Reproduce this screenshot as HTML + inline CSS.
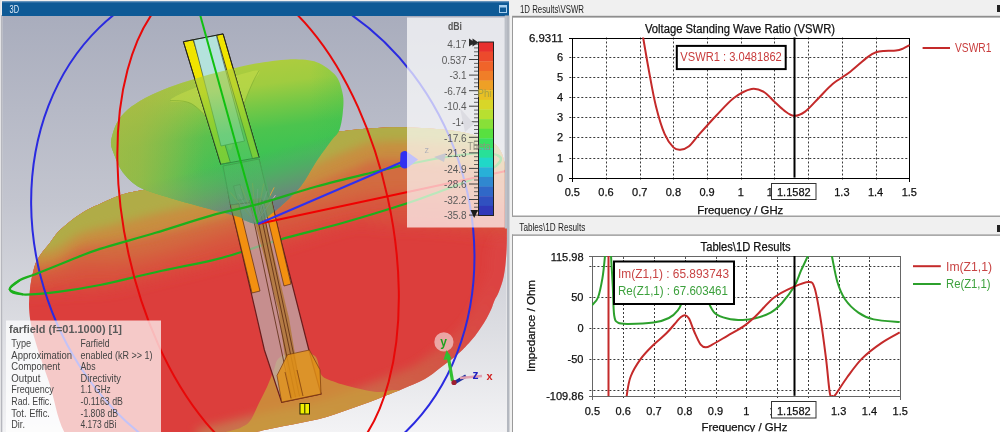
<!DOCTYPE html>
<html><head><meta charset="utf-8"><title>CST</title>
<style>html,body{margin:0;padding:0;background:#f0f0f0;width:1000px;height:432px;overflow:hidden}svg{display:block} .pl text{stroke:currentColor;stroke-width:0.25px}</style>
</head><body>
<svg width="1000" height="432" viewBox="0 0 1000 432" font-family="'Liberation Sans', Arial, sans-serif">
<rect x="0" y="0" width="512" height="432" fill="#f0f0f0"/>
<rect x="0" y="0" width="1.2" height="432" fill="#e4e4e6"/>
<rect x="1.2" y="15" width="1.3" height="417" fill="#a8aab2"/>
<rect x="2" y="1.5" width="507.5" height="14.5" fill="#0e5a96"/>
<rect x="2" y="1.5" width="507.5" height="1" fill="#4a82b4"/>
<text x="9.5" y="12.6" font-size="10" fill="#e0ecf8" color="#e0ecf8" text-anchor="start" font-weight="normal" textLength="9.5" lengthAdjust="spacingAndGlyphs">3D</text>
<rect x="499.5" y="5.5" width="7" height="7" fill="none" stroke="#a8d0f0" stroke-width="1"/>
<rect x="499.5" y="5.5" width="7" height="2" fill="#a8d0f0"/>
<rect x="509" y="0" width="491" height="432" fill="#f0f0f0"/>
<text x="520" y="12.8" font-size="10" fill="#222222" color="#222222" text-anchor="start" font-weight="normal" textLength="64" lengthAdjust="spacingAndGlyphs">1D Results\VSWR</text>
<text x="519.3" y="231" font-size="10" fill="#222222" color="#222222" text-anchor="start" font-weight="normal" textLength="66" lengthAdjust="spacingAndGlyphs">Tables\1D Results</text>
<rect x="997" y="5" width="4" height="7" fill="#222"/>
<rect x="997" y="225" width="4" height="7" fill="#222"/>
<svg x="0" y="16" width="507" height="416" viewBox="0 16 507 416">
<defs>
<linearGradient id="bg" x1="0" y1="16" x2="0" y2="432" gradientUnits="userSpaceOnUse"><stop offset="0" stop-color="#a9adbd"/><stop offset="0.45" stop-color="#c3c5cf"/><stop offset="0.75" stop-color="#dcdde2"/><stop offset="1" stop-color="#f3f3f5"/></linearGradient>
<linearGradient id="body" x1="54.4" y1="202.9" x2="126.9" y2="473.3" gradientUnits="userSpaceOnUse">
<stop offset="0.000" stop-color="#a8b446"/>
<stop offset="0.079" stop-color="#aeae44"/>
<stop offset="0.143" stop-color="#bca042"/>
<stop offset="0.200" stop-color="#ca8a40"/>
<stop offset="0.264" stop-color="#d47440"/>
<stop offset="0.336" stop-color="#d8603e"/>
<stop offset="0.400" stop-color="#da4e3c"/>
<stop offset="0.482" stop-color="#dc423c"/>
<stop offset="0.732" stop-color="#dc3c3c"/>
<stop offset="0.839" stop-color="#da4a44"/>
<stop offset="0.921" stop-color="#d65a4e"/>
<stop offset="0.982" stop-color="#d26a52"/>
</linearGradient>
<linearGradient id="lobe" x1="200" y1="65" x2="215" y2="175" gradientUnits="userSpaceOnUse"><stop offset="0" stop-color="#b0cc3e"/><stop offset="0.25" stop-color="#a0cc40"/><stop offset="0.45" stop-color="#74c846"/><stop offset="0.65" stop-color="#4cc44e"/><stop offset="1" stop-color="#36c256"/></linearGradient>
<linearGradient id="lobeside" x1="110" y1="0" x2="345" y2="0" gradientUnits="userSpaceOnUse"><stop offset="0" stop-color="#a8c83e" stop-opacity="0.7"/><stop offset="0.4" stop-color="#a8c83e" stop-opacity="0"/><stop offset="0.85" stop-color="#30c050" stop-opacity="0"/><stop offset="1" stop-color="#30c050" stop-opacity="0.2"/></linearGradient>
<linearGradient id="cone" x1="53.9" y1="207.2" x2="70.8" y2="272" gradientUnits="userSpaceOnUse"><stop offset="0" stop-color="#5a9a6a" stop-opacity="0"/><stop offset="0.15" stop-color="#62a46c" stop-opacity="0.3"/><stop offset="0.45" stop-color="#6c9076" stop-opacity="0.65"/><stop offset="0.7" stop-color="#767a84" stop-opacity="0.82"/><stop offset="1" stop-color="#7a6090" stop-opacity="0.92"/></linearGradient>
<linearGradient id="coneL" x1="140" y1="0" x2="240" y2="0" gradientUnits="userSpaceOnUse"><stop offset="0" stop-color="#a8b448" stop-opacity="0.6"/><stop offset="0.5" stop-color="#a0b050" stop-opacity="0.25"/><stop offset="1" stop-color="#a0b050" stop-opacity="0"/></linearGradient>
<radialGradient id="skirt" cx="300" cy="420" r="110" gradientUnits="userSpaceOnUse" gradientTransform="translate(300 420) scale(1 0.7) translate(-300 -420)"><stop offset="0" stop-color="#c8a020" stop-opacity="0.95"/><stop offset="0.5" stop-color="#c8a020" stop-opacity="0.7"/><stop offset="1" stop-color="#c8a020" stop-opacity="0"/></radialGradient>
</defs>
<rect x="2.5" y="16" width="504" height="416" fill="url(#bg)"/>
<clipPath id="bodyclip"><path d="M34.7,266.0 C36.5,260.2 38.5,257.8 41.0,254.0 C43.5,250.2 47.0,246.7 49.8,243.0 C52.6,239.3 54.7,235.5 58.0,232.0 C61.3,228.5 65.4,225.2 69.4,222.0 C73.4,218.8 77.5,215.7 82.0,213.0 C86.5,210.3 89.6,208.7 96.3,205.6 C103.0,202.5 113.6,197.2 122.2,194.4 C130.8,191.6 139.2,191.0 148.0,188.9 C156.8,186.8 163.8,185.5 175.0,182.0 C186.2,178.5 200.8,173.0 215.0,168.0 C229.2,163.0 245.8,156.7 260.0,152.0 C274.2,147.3 288.3,143.2 300.0,140.0 C311.7,136.8 318.3,134.9 330.0,133.0 C341.7,131.1 356.7,129.4 370.0,128.5 C383.3,127.6 395.8,127.1 410.0,127.5 C424.2,127.9 442.5,129.1 455.0,131.0 C467.5,132.9 477.5,135.8 485.0,139.0 C492.5,142.2 496.5,144.0 500.0,150.0 C503.5,156.0 504.9,162.1 506.0,175.0 C507.1,187.9 506.7,214.6 506.8,227.6 C506.9,240.6 506.9,244.9 506.4,253.0 C505.9,261.1 505.1,269.5 503.8,276.0 C502.5,282.5 500.3,288.0 498.8,292.0 C497.3,296.0 496.0,297.1 494.7,300.0 C493.4,302.9 492.6,306.2 491.2,309.3 C489.9,312.4 488.3,315.4 486.6,318.5 C484.9,321.6 482.7,324.9 480.8,327.8 C478.9,330.7 477.3,333.0 475.0,335.9 C472.7,338.8 469.1,342.8 467.0,345.1 C464.9,347.5 464.8,347.7 462.3,350.0 C459.8,352.3 455.7,356.0 452.0,359.0 C448.3,362.0 444.6,364.6 440.0,368.0 C435.4,371.4 430.6,375.9 424.4,379.3 C418.2,382.8 409.4,386.0 403.0,388.7 C396.6,391.4 391.7,393.2 386.0,395.5 C380.3,397.8 374.7,400.2 369.0,402.3 C363.3,404.4 357.7,406.3 352.0,408.3 C346.3,410.3 340.7,412.4 335.0,414.2 C329.3,416.0 323.7,417.9 318.0,419.3 C312.3,420.7 306.7,421.6 301.0,422.7 C295.3,423.8 289.7,425.0 284.0,426.1 C278.3,427.2 272.7,428.3 267.0,429.5 C261.3,430.7 261.2,430.9 250.0,433.5 C238.8,436.1 221.7,442.2 200.0,445.0 C178.3,447.8 141.7,450.8 120.0,450.0 C98.3,449.2 81.8,451.3 70.0,440.0 C58.2,428.7 54.8,398.7 49.0,382.0 C43.2,365.3 38.3,351.5 35.0,340.0 C31.7,328.5 30.2,321.5 29.4,313.0 C28.6,304.5 29.1,296.8 30.0,289.0 C30.9,281.2 32.9,271.8 34.7,266.0Z"/></clipPath>
<filter id="bl5" x="-10%" y="-10%" width="120%" height="120%"><feGaussianBlur stdDeviation="5"/></filter>
<filter id="bl8" x="-10%" y="-10%" width="120%" height="120%"><feGaussianBlur stdDeviation="8"/></filter>
<path id="bodyp" d="M34.7,266.0 C36.5,260.2 38.5,257.8 41.0,254.0 C43.5,250.2 47.0,246.7 49.8,243.0 C52.6,239.3 54.7,235.5 58.0,232.0 C61.3,228.5 65.4,225.2 69.4,222.0 C73.4,218.8 77.5,215.7 82.0,213.0 C86.5,210.3 89.6,208.7 96.3,205.6 C103.0,202.5 113.6,197.2 122.2,194.4 C130.8,191.6 139.2,191.0 148.0,188.9 C156.8,186.8 163.8,185.5 175.0,182.0 C186.2,178.5 200.8,173.0 215.0,168.0 C229.2,163.0 245.8,156.7 260.0,152.0 C274.2,147.3 288.3,143.2 300.0,140.0 C311.7,136.8 318.3,134.9 330.0,133.0 C341.7,131.1 356.7,129.4 370.0,128.5 C383.3,127.6 395.8,127.1 410.0,127.5 C424.2,127.9 442.5,129.1 455.0,131.0 C467.5,132.9 477.5,135.8 485.0,139.0 C492.5,142.2 496.5,144.0 500.0,150.0 C503.5,156.0 504.9,162.1 506.0,175.0 C507.1,187.9 506.7,214.6 506.8,227.6 C506.9,240.6 506.9,244.9 506.4,253.0 C505.9,261.1 505.1,269.5 503.8,276.0 C502.5,282.5 500.3,288.0 498.8,292.0 C497.3,296.0 496.0,297.1 494.7,300.0 C493.4,302.9 492.6,306.2 491.2,309.3 C489.9,312.4 488.3,315.4 486.6,318.5 C484.9,321.6 482.7,324.9 480.8,327.8 C478.9,330.7 477.3,333.0 475.0,335.9 C472.7,338.8 469.1,342.8 467.0,345.1 C464.9,347.5 464.8,347.7 462.3,350.0 C459.8,352.3 455.7,356.0 452.0,359.0 C448.3,362.0 444.6,364.6 440.0,368.0 C435.4,371.4 430.6,375.9 424.4,379.3 C418.2,382.8 409.4,386.0 403.0,388.7 C396.6,391.4 391.7,393.2 386.0,395.5 C380.3,397.8 374.7,400.2 369.0,402.3 C363.3,404.4 357.7,406.3 352.0,408.3 C346.3,410.3 340.7,412.4 335.0,414.2 C329.3,416.0 323.7,417.9 318.0,419.3 C312.3,420.7 306.7,421.6 301.0,422.7 C295.3,423.8 289.7,425.0 284.0,426.1 C278.3,427.2 272.7,428.3 267.0,429.5 C261.3,430.7 261.2,430.9 250.0,433.5 C238.8,436.1 221.7,442.2 200.0,445.0 C178.3,447.8 141.7,450.8 120.0,450.0 C98.3,449.2 81.8,451.3 70.0,440.0 C58.2,428.7 54.8,398.7 49.0,382.0 C43.2,365.3 38.3,351.5 35.0,340.0 C31.7,328.5 30.2,321.5 29.4,313.0 C28.6,304.5 29.1,296.8 30.0,289.0 C30.9,281.2 32.9,271.8 34.7,266.0Z" fill="#dc3e3c"/>
<g clip-path="url(#bodyclip)">
<path d="M0.0,292.0 C8.3,291.7 36.7,290.7 50.0,290.0 C63.3,289.3 70.0,288.7 80.0,288.0 C90.0,287.3 97.5,288.0 110.0,286.0 C122.5,284.0 131.7,281.7 155.0,276.0 C178.3,270.3 217.5,261.0 250.0,252.0 C282.5,243.0 328.3,226.8 350.0,222.0 C371.7,217.2 363.3,222.2 380.0,223.0 C396.7,223.8 426.7,224.8 450.0,227.0 C473.3,229.2 508.3,234.5 520.0,236.0 L520,0 L0,0 Z" fill="#d8523e" filter="url(#bl8)"/>
<path d="M0.0,276.0 C8.3,275.3 36.7,274.3 50.0,272.0 C63.3,269.7 70.0,263.7 80.0,262.0 C90.0,260.3 97.5,263.2 110.0,262.0 C122.5,260.8 131.7,261.0 155.0,255.0 C178.3,249.0 217.5,235.2 250.0,226.0 C282.5,216.8 328.3,205.2 350.0,200.0 C371.7,194.8 363.3,195.7 380.0,195.0 C396.7,194.3 426.7,194.2 450.0,196.0 C473.3,197.8 508.3,204.3 520.0,206.0 L520,0 L0,0 Z" fill="#d26c40" filter="url(#bl8)"/>
<path d="M0.0,266.0 C8.3,265.7 36.7,267.2 50.0,264.0 C63.3,260.8 70.0,250.7 80.0,247.0 C90.0,243.3 97.5,244.2 110.0,242.0 C122.5,239.8 131.7,239.5 155.0,234.0 C178.3,228.5 217.5,219.7 250.0,209.0 C282.5,198.3 328.3,178.2 350.0,170.0 C371.7,161.8 363.3,161.0 380.0,160.0 C396.7,159.0 426.7,161.3 450.0,164.0 C473.3,166.7 508.3,174.0 520.0,176.0 L520,0 L0,0 Z" fill="#c88e40" filter="url(#bl5)"/>
<path d="M0.0,254.0 C8.3,253.5 36.7,254.3 50.0,251.0 C63.3,247.7 70.0,238.2 80.0,234.0 C90.0,229.8 97.5,229.3 110.0,226.0 C122.5,222.7 131.7,220.0 155.0,214.0 C178.3,208.0 217.5,200.7 250.0,190.0 C282.5,179.3 328.3,158.0 350.0,150.0 C371.7,142.0 363.3,143.0 380.0,142.0 C396.7,141.0 426.7,141.7 450.0,144.0 C473.3,146.3 508.3,154.0 520.0,156.0 L520,0 L0,0 Z" fill="#b0ac46" filter="url(#bl5)"/>
<linearGradient id="edgeg" x1="500" y1="290" x2="300" y2="430" gradientUnits="userSpaceOnUse"><stop offset="0" stop-color="#dc5050" stop-opacity="0.3"/><stop offset="0.45" stop-color="#cc6448" stop-opacity="0.75"/><stop offset="1" stop-color="#c87850" stop-opacity="0.9"/></linearGradient>
<path d="M512.0,240.0 C511.0,242.2 507.4,247.0 506.0,253.0 C504.6,259.0 505.7,268.2 503.8,276.0 C501.9,283.8 498.5,291.4 494.7,300.0 C490.9,308.6 486.2,319.5 480.8,327.8 C475.4,336.1 469.1,343.3 462.3,350.0 C455.5,356.7 446.3,363.1 440.0,368.0 C433.7,372.9 430.6,375.9 424.4,379.3 C418.2,382.8 409.4,386.0 403.0,388.7 C396.6,391.4 394.5,392.2 386.0,395.5 C377.5,398.8 363.3,404.3 352.0,408.3 C340.7,412.3 329.3,416.3 318.0,419.3 C306.7,422.3 295.3,423.7 284.0,426.1 C272.7,428.5 264.0,430.2 250.0,433.5 C236.0,436.8 208.3,443.9 200.0,446.0" fill="none" stroke="url(#edgeg)" stroke-width="34" filter="url(#bl5)"/>
</g>
<path d="M215.0,440.0 C188.3,438.0 234.2,431.2 240.0,428.0 C245.8,424.8 246.9,425.0 250.0,421.0 C253.1,417.0 255.7,409.7 258.5,404.0 C261.3,398.3 264.4,392.7 267.0,387.0 C269.6,381.3 271.8,374.8 273.8,370.0 C275.8,365.2 275.5,361.0 279.0,358.0 C282.5,355.0 289.0,352.3 295.0,352.0 C301.0,351.7 310.6,352.2 315.0,356.0 C319.4,359.8 318.1,370.7 321.4,375.0 C324.7,379.3 329.9,380.0 335.0,382.0 C340.1,384.0 344.9,385.3 352.0,387.0 C359.1,388.7 370.3,391.5 377.5,392.0 C384.7,392.5 389.6,390.0 395.0,390.0 C400.4,390.0 405.8,390.3 410.0,392.0 C414.2,393.7 421.7,392.0 420.0,400.0 C418.3,408.0 434.2,433.3 400.0,440.0 C365.8,446.7 241.7,442.0 215.0,440.0Z" fill="#c8a43a" opacity="0.72" clip-path="url(#bodyclip)"/>
<path d="M114.0,153.9 C112.5,149.8 110.6,146.6 111.0,142.0 C111.4,137.4 114.2,128.2 116.7,123.3 C119.2,118.4 123.2,113.3 127.8,109.4 C132.4,105.5 141.0,100.3 147.2,97.0 C153.4,93.7 162.3,89.9 169.4,87.2 C176.5,84.5 186.1,81.4 194.4,78.9 C202.7,76.4 215.8,72.9 225.0,70.6 C234.2,68.3 246.0,65.3 255.6,63.6 C265.2,61.9 279.7,59.6 288.9,59.4 C298.1,59.2 309.6,59.7 316.7,62.2 C323.8,64.7 332.1,71.0 336.0,76.0 C339.9,81.0 342.0,89.8 343.0,95.6 C344.0,101.4 343.1,109.7 342.5,115.0 C341.9,120.3 340.7,127.1 339.0,131.0 C337.3,134.9 334.4,136.3 331.0,141.0 C327.6,145.7 320.5,155.2 316.0,162.0 C311.5,168.8 306.3,179.3 301.0,186.0 C295.7,192.7 286.4,201.2 280.5,206.5 C274.6,211.8 265.7,218.4 262.0,221.0 C258.3,223.6 258.6,224.1 256.0,224.0 C253.4,223.9 247.7,221.6 245.0,220.5 C242.3,219.4 244.8,218.8 238.0,216.7 C231.2,214.6 210.2,209.3 200.0,206.5 C189.8,203.7 178.7,200.7 170.0,198.0 C161.3,195.3 147.9,191.3 141.9,188.6 C135.9,185.9 132.8,182.9 129.7,180.0 C126.6,177.1 123.4,173.4 121.0,169.5 C118.6,165.6 115.5,158.0 114.0,153.9Z" fill="url(#lobe)"/>
<path d="M114.0,153.9 C112.5,149.8 110.6,146.6 111.0,142.0 C111.4,137.4 114.2,128.2 116.7,123.3 C119.2,118.4 123.2,113.3 127.8,109.4 C132.4,105.5 141.0,100.3 147.2,97.0 C153.4,93.7 162.3,89.9 169.4,87.2 C176.5,84.5 186.1,81.4 194.4,78.9 C202.7,76.4 215.8,72.9 225.0,70.6 C234.2,68.3 246.0,65.3 255.6,63.6 C265.2,61.9 279.7,59.6 288.9,59.4 C298.1,59.2 309.6,59.7 316.7,62.2 C323.8,64.7 332.1,71.0 336.0,76.0 C339.9,81.0 342.0,89.8 343.0,95.6 C344.0,101.4 343.1,109.7 342.5,115.0 C341.9,120.3 340.7,127.1 339.0,131.0 C337.3,134.9 334.4,136.3 331.0,141.0 C327.6,145.7 320.5,155.2 316.0,162.0 C311.5,168.8 306.3,179.3 301.0,186.0 C295.7,192.7 286.4,201.2 280.5,206.5 C274.6,211.8 265.7,218.4 262.0,221.0 C258.3,223.6 258.6,224.1 256.0,224.0 C253.4,223.9 247.7,221.6 245.0,220.5 C242.3,219.4 244.8,218.8 238.0,216.7 C231.2,214.6 210.2,209.3 200.0,206.5 C189.8,203.7 178.7,200.7 170.0,198.0 C161.3,195.3 147.9,191.3 141.9,188.6 C135.9,185.9 132.8,182.9 129.7,180.0 C126.6,177.1 123.4,173.4 121.0,169.5 C118.6,165.6 115.5,158.0 114.0,153.9Z" fill="url(#lobeside)"/>
<path d="M114.0,153.9 C112.5,149.8 110.6,146.6 111.0,142.0 C111.4,137.4 114.2,128.2 116.7,123.3 C119.2,118.4 123.2,113.3 127.8,109.4 C132.4,105.5 141.0,100.3 147.2,97.0 C153.4,93.7 162.3,89.9 169.4,87.2 C176.5,84.5 186.1,81.4 194.4,78.9 C202.7,76.4 215.8,72.9 225.0,70.6 C234.2,68.3 246.0,65.3 255.6,63.6 C265.2,61.9 279.7,59.6 288.9,59.4 C298.1,59.2 309.6,59.7 316.7,62.2 C323.8,64.7 332.1,71.0 336.0,76.0 C339.9,81.0 342.0,89.8 343.0,95.6 C344.0,101.4 343.1,109.7 342.5,115.0 C341.9,120.3 340.7,127.1 339.0,131.0 C337.3,134.9 334.4,136.3 331.0,141.0 C327.6,145.7 320.5,155.2 316.0,162.0 C311.5,168.8 306.3,179.3 301.0,186.0 C295.7,192.7 286.4,201.2 280.5,206.5 C274.6,211.8 265.7,218.4 262.0,221.0 C258.3,223.6 258.6,224.1 256.0,224.0 C253.4,223.9 247.7,221.6 245.0,220.5 C242.3,219.4 244.8,218.8 238.0,216.7 C231.2,214.6 210.2,209.3 200.0,206.5 C189.8,203.7 178.7,200.7 170.0,198.0 C161.3,195.3 147.9,191.3 141.9,188.6 C135.9,185.9 132.8,182.9 129.7,180.0 C126.6,177.1 123.4,173.4 121.0,169.5 C118.6,165.6 115.5,158.0 114.0,153.9Z" fill="url(#cone)"/>
<path d="M114.0,153.9 C112.5,149.8 110.6,146.6 111.0,142.0 C111.4,137.4 114.2,128.2 116.7,123.3 C119.2,118.4 123.2,113.3 127.8,109.4 C132.4,105.5 141.0,100.3 147.2,97.0 C153.4,93.7 162.3,89.9 169.4,87.2 C176.5,84.5 186.1,81.4 194.4,78.9 C202.7,76.4 215.8,72.9 225.0,70.6 C234.2,68.3 246.0,65.3 255.6,63.6 C265.2,61.9 279.7,59.6 288.9,59.4 C298.1,59.2 309.6,59.7 316.7,62.2 C323.8,64.7 332.1,71.0 336.0,76.0 C339.9,81.0 342.0,89.8 343.0,95.6 C344.0,101.4 343.1,109.7 342.5,115.0 C341.9,120.3 340.7,127.1 339.0,131.0 C337.3,134.9 334.4,136.3 331.0,141.0 C327.6,145.7 320.5,155.2 316.0,162.0 C311.5,168.8 306.3,179.3 301.0,186.0 C295.7,192.7 286.4,201.2 280.5,206.5 C274.6,211.8 265.7,218.4 262.0,221.0 C258.3,223.6 258.6,224.1 256.0,224.0 C253.4,223.9 247.7,221.6 245.0,220.5 C242.3,219.4 244.8,218.8 238.0,216.7 C231.2,214.6 210.2,209.3 200.0,206.5 C189.8,203.7 178.7,200.7 170.0,198.0 C161.3,195.3 147.9,191.3 141.9,188.6 C135.9,185.9 132.8,182.9 129.7,180.0 C126.6,177.1 123.4,173.4 121.0,169.5 C118.6,165.6 115.5,158.0 114.0,153.9Z" fill="url(#coneL)"/>
<path d="M170.0,100.4 C171.3,97.4 189.2,90.1 200.0,86.0 C210.8,81.9 225.2,78.5 235.0,76.0 C244.8,73.5 256.1,69.4 258.9,70.7 C261.7,72.0 254.5,78.5 252.0,84.0 C249.5,89.5 246.2,97.7 244.0,104.0 C241.8,110.3 240.5,116.4 239.0,122.0 C237.5,127.6 236.3,132.7 234.8,137.4 C233.3,142.1 231.8,149.9 230.0,150.0 C228.2,150.1 226.6,141.9 224.0,138.0 C221.4,134.1 219.7,132.0 214.4,126.3 C209.1,120.6 199.4,108.3 192.0,104.0 C184.6,99.7 168.7,103.4 170.0,100.4Z" fill="#c4dc4a" opacity="0.55"/>
<path d="M170.0,100.4 C173.7,101.0 184.6,99.7 192.0,104.0 C199.4,108.3 208.7,119.5 214.4,126.3 C220.1,133.1 224.1,141.9 226.0,145.0" fill="none" stroke="#78a830" stroke-width="1" opacity="0.6"/>
<path d="M258.9,70.7 C257.8,72.9 254.5,78.5 252.0,84.0 C249.5,89.5 246.2,97.7 244.0,104.0 C241.8,110.3 240.5,116.4 239.0,122.0 C237.5,127.6 236.0,132.7 234.8,137.4 C233.6,142.1 232.5,147.9 232.0,150.0" fill="none" stroke="#78a830" stroke-width="1" opacity="0.6"/>
<path d="M497.0,155.0 C497.7,155.7 501.2,157.2 501.0,159.0 C500.8,160.8 501.2,162.5 496.0,166.0 C490.8,169.5 479.3,175.8 470.0,180.0 C460.7,184.2 450.5,187.6 440.0,191.5 C429.5,195.4 423.3,198.1 407.2,203.3 C391.1,208.5 364.4,216.8 343.3,222.8 C322.2,228.8 298.2,234.4 280.8,239.4 C263.4,244.4 250.5,249.3 238.9,252.8 C227.3,256.3 224.9,257.4 211.0,260.6 C197.1,263.8 174.1,268.1 155.6,272.2 C137.1,276.3 116.3,281.7 100.0,285.0 C83.7,288.3 70.7,290.2 57.9,291.8 C45.1,293.4 31.0,294.9 23.0,294.5 C15.0,294.1 10.2,291.8 9.7,289.4 C9.2,287.0 18.3,281.6 20.0,280.0" fill="none" stroke="#1cb01c" stroke-width="2.2"/>
<clipPath id="antclip"><path d="M183.4,41.7 L223.1,33.9 L259.0,157.4 L271.4,200.0 L278.3,230.0 L308.9,350.0 L321.0,394.0 L281.7,402.2 L264.4,350.0 L236.7,230.0 L230.5,205.0 L220.8,164.3Z"/></clipPath>
<path d="M183.4,41.7 L223.1,33.9 L259.0,157.4 L220.8,164.3Z" fill="#d8e0c8" fill-opacity="0.3"/>
<path d="M223.0,166.0 L259.0,159.0 L269.0,200.0 L230.5,205.0Z" fill="#b0a890" fill-opacity="0.35" stroke="#4a3a28" stroke-width="0.7"/>
<path d="M230.5,205.0 L271.4,200.0 L278.3,230.0 L308.9,350.0 L321.0,394.0 L281.7,402.2 L264.4,350.0 L236.7,230.0Z" fill="#bcb0b0" fill-opacity="0.7" stroke="#6a1c1c" stroke-width="1.2"/>
<path d="M183.4,41.7 L193.2,39.8 L230.4,162.5 L220.8,164.3Z" fill="#f0e400" stroke="#302810" stroke-width="0.8"/>
<path d="M216.6,35.2 L223.1,33.9 L259.0,157.4 L252.5,158.7Z" fill="#f0e400" stroke="#302810" stroke-width="0.8"/>
<path d="M193.6,39.7 L216.3,35.3 L244.5,141.0 L221.0,146.0Z" fill="#b4e2dc" stroke="#3a5a48" stroke-width="0.7"/>
<path d="M183.4,41.7 L223.1,33.9 L259.0,157.4 L220.8,164.3Z" fill="none" stroke="#202018" stroke-width="1"/>
<path d="M233.5,186.0 L240.0,184.5 L244.0,199.0 L237.5,200.5Z" fill="#a0a0a0" fill-opacity="0.6" stroke="#5a4a40" stroke-width="0.6"/>
<path d="M230.8,205.0 L238.8,204.0 L260.0,291.0 L252.0,293.0Z" fill="#f39010" stroke="#5a2a10" stroke-width="0.7"/>
<path d="M263.5,201.0 L271.4,200.0 L291.0,284.0 L284.0,286.0Z" fill="#f39010" stroke="#5a2a10" stroke-width="0.7"/>
<path d="M249.0,200.0 L260.0,198.0 L287.0,310.0 L289.0,318.0 L302.0,396.0 L291.0,398.5 L280.0,322.0 L279.0,312.0Z" fill="#b07838" fill-opacity="0.85"/>
<line x1="249.5" y1="200.0" x2="291.5" y2="398.0" stroke="#5a2a10" stroke-width="0.8"/>
<line x1="253.5" y1="199.2" x2="295.5" y2="397.2" stroke="#5a2a10" stroke-width="0.8"/>
<line x1="257.5" y1="198.4" x2="299.5" y2="396.4" stroke="#5a2a10" stroke-width="0.8"/>
<line x1="260.5" y1="197.8" x2="302.5" y2="395.8" stroke="#5a2a10" stroke-width="0.8"/>
<path d="M277.0,375.5 L287.5,354.7 L309.4,350.0 L320.0,369.8 L321.0,394.0 L281.7,402.2Z" fill="#e09018" fill-opacity="0.85" stroke="#7a3a10" stroke-width="0.7"/>
<line x1="291" y1="398.5" x2="285" y2="372" stroke="#7a3a10" stroke-width="0.7"/>
<line x1="303" y1="396" x2="297" y2="370" stroke="#7a3a10" stroke-width="0.7"/>
<rect x="300" y="403.5" width="9.5" height="10.5" fill="#f0f000" stroke="#202000" stroke-width="1"/>
<line x1="304.8" y1="404" x2="304.8" y2="413.5" stroke="#202000" stroke-width="1"/>
<line x1="256" y1="223" x2="230.3" y2="192.4" stroke="#eca23a" stroke-width="1" opacity="0.85"/>
<line x1="256" y1="223" x2="238.5" y2="193.9" stroke="#d8a0c8" stroke-width="1" opacity="0.85"/>
<line x1="256" y1="223" x2="241.0" y2="185.9" stroke="#eca23a" stroke-width="1" opacity="0.85"/>
<line x1="256" y1="223" x2="248.4" y2="189.9" stroke="#d8a0c8" stroke-width="1" opacity="0.85"/>
<line x1="256" y1="223" x2="252.5" y2="183.2" stroke="#eca23a" stroke-width="1" opacity="0.85"/>
<line x1="256" y1="223" x2="257.8" y2="189.0" stroke="#d8a0c8" stroke-width="1" opacity="0.85"/>
<line x1="256" y1="223" x2="263.6" y2="183.7" stroke="#eca23a" stroke-width="1" opacity="0.85"/>
<line x1="256" y1="223" x2="267.1" y2="190.9" stroke="#d8a0c8" stroke-width="1" opacity="0.85"/>
<line x1="256" y1="223" x2="274.2" y2="187.4" stroke="#eca23a" stroke-width="1" opacity="0.85"/>
<line x1="256" y1="223" x2="275.5" y2="195.1" stroke="#d8a0c8" stroke-width="1" opacity="0.85"/>
<path d="M114.0,153.9 C112.3,149.3 110.5,147.1 111.0,142.0 C111.5,136.9 113.9,128.7 116.7,123.3 C119.5,117.9 122.7,113.8 127.8,109.4 C132.9,105.0 140.3,100.7 147.2,97.0 C154.1,93.3 161.5,90.2 169.4,87.2 C177.3,84.2 185.1,81.7 194.4,78.9 C203.7,76.1 214.8,73.1 225.0,70.6 C235.2,68.0 244.9,65.5 255.6,63.6 C266.2,61.7 278.7,59.6 288.9,59.4 C299.1,59.2 308.8,59.4 316.7,62.2 C324.6,65.0 331.6,70.4 336.0,76.0 C340.4,81.6 341.9,89.1 343.0,95.6 C344.1,102.1 343.2,109.1 342.5,115.0 C341.8,120.9 340.9,126.7 339.0,131.0 C337.1,135.3 334.8,135.8 331.0,141.0 C327.2,146.2 321.0,154.5 316.0,162.0 C311.0,169.5 306.9,178.6 301.0,186.0 C295.1,193.4 287.0,200.7 280.5,206.5 C274.0,212.3 266.1,218.1 262.0,221.0 C257.9,223.9 258.8,224.1 256.0,224.0 C253.2,223.9 248.0,221.7 245.0,220.5 C242.0,219.3 245.5,219.0 238.0,216.7 C230.5,214.4 211.3,209.6 200.0,206.5 C188.7,203.4 179.7,201.0 170.0,198.0 C160.3,195.0 148.6,191.6 141.9,188.6 C135.2,185.6 133.2,183.2 129.7,180.0 C126.2,176.8 123.6,173.8 121.0,169.5 C118.4,165.2 115.7,158.5 114.0,153.9Z" fill="url(#lobe)" opacity="0.68" clip-path="url(#antclip)"/>
<path d="M114.0,153.9 C112.3,149.3 110.5,147.1 111.0,142.0 C111.5,136.9 113.9,128.7 116.7,123.3 C119.5,117.9 122.7,113.8 127.8,109.4 C132.9,105.0 140.3,100.7 147.2,97.0 C154.1,93.3 161.5,90.2 169.4,87.2 C177.3,84.2 185.1,81.7 194.4,78.9 C203.7,76.1 214.8,73.1 225.0,70.6 C235.2,68.0 244.9,65.5 255.6,63.6 C266.2,61.7 278.7,59.6 288.9,59.4 C299.1,59.2 308.8,59.4 316.7,62.2 C324.6,65.0 331.6,70.4 336.0,76.0 C340.4,81.6 341.9,89.1 343.0,95.6 C344.1,102.1 343.2,109.1 342.5,115.0 C341.8,120.9 340.9,126.7 339.0,131.0 C337.1,135.3 334.8,135.8 331.0,141.0 C327.2,146.2 321.0,154.5 316.0,162.0 C311.0,169.5 306.9,178.6 301.0,186.0 C295.1,193.4 287.0,200.7 280.5,206.5 C274.0,212.3 266.1,218.1 262.0,221.0 C257.9,223.9 258.8,224.1 256.0,224.0 C253.2,223.9 248.0,221.7 245.0,220.5 C242.0,219.3 245.5,219.0 238.0,216.7 C230.5,214.4 211.3,209.6 200.0,206.5 C188.7,203.4 179.7,201.0 170.0,198.0 C160.3,195.0 148.6,191.6 141.9,188.6 C135.2,185.6 133.2,183.2 129.7,180.0 C126.2,176.8 123.6,173.8 121.0,169.5 C118.4,165.2 115.7,158.5 114.0,153.9Z" fill="url(#cone)" opacity="0.5" clip-path="url(#antclip)"/>
<ellipse cx="252.8" cy="229.4" rx="216.9" ry="258.8" transform="rotate(161.1 252.8 229.4)" fill="none" stroke="#2a2ae0" stroke-width="2"/>
<ellipse cx="258.1" cy="225.8" rx="255.2" ry="132.6" transform="rotate(-102.5 258.1 225.8)" fill="none" stroke="#e80808" stroke-width="2"/>
<path d="M23.0,294.5 C20.8,293.6 10.2,291.8 9.7,289.4 C9.2,287.0 15.8,282.5 20.0,280.0 C24.2,277.5 26.5,277.6 34.7,274.4 C42.9,271.1 58.5,264.8 69.4,260.5 C80.3,256.2 85.6,253.5 100.0,248.9 C114.4,244.3 137.1,238.4 155.6,232.8 C174.1,227.2 193.6,220.5 211.0,215.6 C228.4,210.7 242.6,208.4 260.0,203.6 C277.4,198.8 297.1,191.8 315.6,186.7 C334.1,181.6 355.7,176.5 371.0,172.8 C386.3,169.1 394.0,167.1 407.2,164.4 C420.4,161.7 437.2,158.4 450.0,156.5 C462.8,154.6 476.2,153.2 484.0,153.0 C491.8,152.8 494.2,154.0 497.0,155.0 C499.8,156.0 501.2,157.2 501.0,159.0 C500.8,160.8 496.8,164.8 496.0,166.0" fill="none" stroke="#1cb01c" stroke-width="2.2"/>
<line x1="258" y1="224" x2="196" y2="0" stroke="#10c010" stroke-width="2"/>
<line x1="258" y1="224" x2="506" y2="171" stroke="#f00000" stroke-width="2"/>
<line x1="258" y1="224" x2="402" y2="162" stroke="#3030f0" stroke-width="2"/>
<path d="M400.5,153.5 C402,150.5 406,150 408,152.5 L418,159.5 L408,167.5 C405,169.5 400.5,168 400,165 Z" fill="#3030f0"/>
<circle cx="506" cy="171" r="1.8" fill="#e00000"/>
<circle cx="443.9" cy="341.9" r="9.6" fill="#f0c8c8" fill-opacity="0.75"/>
<text x="443.6" y="346" font-size="12" font-weight="bold" fill="#20a020" text-anchor="middle">y</text>
<path d="M452.5,381 L447.8,354" stroke="#30c030" stroke-width="3.2"/>
<path d="M446.7,350 L443.5,360 L451.5,358.5 Z" fill="#30c030"/>
<path d="M454,383 L466,376" stroke="#2030a0" stroke-width="3.2"/>
<path d="M460,378 L482,376" stroke="#e0a0b0" stroke-width="2.5"/>
<circle cx="454" cy="382.5" r="2.6" fill="#a02030"/>
<text x="475.5" y="378.5" font-size="12" font-weight="bold" fill="#2020c0" text-anchor="middle">z</text>
<text x="489.5" y="380" font-size="11" font-weight="bold" fill="#d02020" text-anchor="middle">x</text>
<rect x="407" y="17.5" width="97.8" height="210" fill="#ffffff" fill-opacity="0.7"/>
<text x="455" y="30" font-size="10" fill="#555" color="#555" text-anchor="middle" font-weight="bold" textLength="14" lengthAdjust="spacingAndGlyphs">dBi</text>
<rect x="478.5" y="42.00" width="15" height="9.94" fill="#e8302e"/>
<rect x="478.5" y="51.64" width="15" height="9.94" fill="#ec4a2c"/>
<rect x="478.5" y="61.28" width="15" height="9.94" fill="#f0642a"/>
<rect x="478.5" y="70.92" width="15" height="9.94" fill="#f07e28"/>
<rect x="478.5" y="80.56" width="15" height="9.94" fill="#eea026"/>
<rect x="478.5" y="90.19" width="15" height="9.94" fill="#e8c024"/>
<rect x="478.5" y="99.83" width="15" height="9.94" fill="#d8d628"/>
<rect x="478.5" y="109.47" width="15" height="9.94" fill="#b8e030"/>
<rect x="478.5" y="119.11" width="15" height="9.94" fill="#88e038"/>
<rect x="478.5" y="128.75" width="15" height="9.94" fill="#58e040"/>
<rect x="478.5" y="138.39" width="15" height="9.94" fill="#38e060"/>
<rect x="478.5" y="148.03" width="15" height="9.94" fill="#28e098"/>
<rect x="478.5" y="157.67" width="15" height="9.94" fill="#20d8c8"/>
<rect x="478.5" y="167.31" width="15" height="9.94" fill="#28b0d8"/>
<rect x="478.5" y="176.94" width="15" height="9.94" fill="#3088d0"/>
<rect x="478.5" y="186.58" width="15" height="9.94" fill="#3068c8"/>
<rect x="478.5" y="196.22" width="15" height="9.94" fill="#3050c0"/>
<rect x="478.5" y="205.86" width="15" height="9.94" fill="#3038b8"/>
<rect x="478.5" y="42" width="15" height="173.5" fill="none" stroke="#222" stroke-width="1"/>
<text x="466.7" y="48.2" font-size="10" fill="#5a5a5a" color="#5a5a5a" text-anchor="end" font-weight="normal">4.17</text>
<line x1="469" y1="44.0" x2="478" y2="44.0" stroke="#404040" stroke-width="1"/>
<line x1="474" y1="47.9" x2="478" y2="47.9" stroke="#404040" stroke-width="0.8"/>
<line x1="474" y1="51.8" x2="478" y2="51.8" stroke="#404040" stroke-width="0.8"/>
<line x1="474" y1="55.6" x2="478" y2="55.6" stroke="#404040" stroke-width="0.8"/>
<text x="466.7" y="63.8" font-size="10" fill="#5a5a5a" color="#5a5a5a" text-anchor="end" font-weight="normal">0.537</text>
<line x1="469" y1="59.5" x2="478" y2="59.5" stroke="#404040" stroke-width="1"/>
<line x1="474" y1="63.4" x2="478" y2="63.4" stroke="#404040" stroke-width="0.8"/>
<line x1="474" y1="67.3" x2="478" y2="67.3" stroke="#404040" stroke-width="0.8"/>
<line x1="474" y1="71.2" x2="478" y2="71.2" stroke="#404040" stroke-width="0.8"/>
<text x="466.7" y="79.3" font-size="10" fill="#5a5a5a" color="#5a5a5a" text-anchor="end" font-weight="normal">-3.1</text>
<line x1="469" y1="75.1" x2="478" y2="75.1" stroke="#404040" stroke-width="1"/>
<line x1="474" y1="79.0" x2="478" y2="79.0" stroke="#404040" stroke-width="0.8"/>
<line x1="474" y1="82.8" x2="478" y2="82.8" stroke="#404040" stroke-width="0.8"/>
<line x1="474" y1="86.7" x2="478" y2="86.7" stroke="#404040" stroke-width="0.8"/>
<text x="466.7" y="94.9" font-size="10" fill="#5a5a5a" color="#5a5a5a" text-anchor="end" font-weight="normal">-6.74</text>
<line x1="469" y1="90.7" x2="478" y2="90.7" stroke="#404040" stroke-width="1"/>
<line x1="474" y1="94.5" x2="478" y2="94.5" stroke="#404040" stroke-width="0.8"/>
<line x1="474" y1="98.4" x2="478" y2="98.4" stroke="#404040" stroke-width="0.8"/>
<line x1="474" y1="102.3" x2="478" y2="102.3" stroke="#404040" stroke-width="0.8"/>
<text x="466.7" y="110.4" font-size="10" fill="#5a5a5a" color="#5a5a5a" text-anchor="end" font-weight="normal">-10.4</text>
<line x1="469" y1="106.2" x2="478" y2="106.2" stroke="#404040" stroke-width="1"/>
<line x1="474" y1="110.1" x2="478" y2="110.1" stroke="#404040" stroke-width="0.8"/>
<line x1="474" y1="114.0" x2="478" y2="114.0" stroke="#404040" stroke-width="0.8"/>
<line x1="474" y1="117.8" x2="478" y2="117.8" stroke="#404040" stroke-width="0.8"/>
<text x="466.7" y="126.0" font-size="10" fill="#5a5a5a" color="#5a5a5a" text-anchor="end" font-weight="normal">-14</text>
<line x1="469" y1="121.8" x2="478" y2="121.8" stroke="#404040" stroke-width="1"/>
<line x1="474" y1="125.6" x2="478" y2="125.6" stroke="#404040" stroke-width="0.8"/>
<line x1="474" y1="129.5" x2="478" y2="129.5" stroke="#404040" stroke-width="0.8"/>
<line x1="474" y1="133.4" x2="478" y2="133.4" stroke="#404040" stroke-width="0.8"/>
<text x="466.7" y="141.5" font-size="10" fill="#5a5a5a" color="#5a5a5a" text-anchor="end" font-weight="normal">-17.6</text>
<line x1="469" y1="137.3" x2="478" y2="137.3" stroke="#404040" stroke-width="1"/>
<line x1="474" y1="141.2" x2="478" y2="141.2" stroke="#404040" stroke-width="0.8"/>
<line x1="474" y1="145.1" x2="478" y2="145.1" stroke="#404040" stroke-width="0.8"/>
<line x1="474" y1="148.9" x2="478" y2="148.9" stroke="#404040" stroke-width="0.8"/>
<text x="466.7" y="157.1" font-size="10" fill="#5a5a5a" color="#5a5a5a" text-anchor="end" font-weight="normal">-21.3</text>
<line x1="469" y1="152.9" x2="478" y2="152.9" stroke="#404040" stroke-width="1"/>
<line x1="474" y1="156.7" x2="478" y2="156.7" stroke="#404040" stroke-width="0.8"/>
<line x1="474" y1="160.6" x2="478" y2="160.6" stroke="#404040" stroke-width="0.8"/>
<line x1="474" y1="164.5" x2="478" y2="164.5" stroke="#404040" stroke-width="0.8"/>
<text x="466.7" y="172.6" font-size="10" fill="#5a5a5a" color="#5a5a5a" text-anchor="end" font-weight="normal">-24.9</text>
<line x1="469" y1="168.4" x2="478" y2="168.4" stroke="#404040" stroke-width="1"/>
<line x1="474" y1="172.3" x2="478" y2="172.3" stroke="#404040" stroke-width="0.8"/>
<line x1="474" y1="176.2" x2="478" y2="176.2" stroke="#404040" stroke-width="0.8"/>
<line x1="474" y1="180.0" x2="478" y2="180.0" stroke="#404040" stroke-width="0.8"/>
<text x="466.7" y="188.2" font-size="10" fill="#5a5a5a" color="#5a5a5a" text-anchor="end" font-weight="normal">-28.6</text>
<line x1="469" y1="184.0" x2="478" y2="184.0" stroke="#404040" stroke-width="1"/>
<line x1="474" y1="187.8" x2="478" y2="187.8" stroke="#404040" stroke-width="0.8"/>
<line x1="474" y1="191.7" x2="478" y2="191.7" stroke="#404040" stroke-width="0.8"/>
<line x1="474" y1="195.6" x2="478" y2="195.6" stroke="#404040" stroke-width="0.8"/>
<text x="466.7" y="203.7" font-size="10" fill="#5a5a5a" color="#5a5a5a" text-anchor="end" font-weight="normal">-32.2</text>
<line x1="469" y1="199.5" x2="478" y2="199.5" stroke="#404040" stroke-width="1"/>
<line x1="474" y1="203.4" x2="478" y2="203.4" stroke="#404040" stroke-width="0.8"/>
<line x1="474" y1="207.2" x2="478" y2="207.2" stroke="#404040" stroke-width="0.8"/>
<line x1="474" y1="211.1" x2="478" y2="211.1" stroke="#404040" stroke-width="0.8"/>
<text x="466.7" y="219.2" font-size="10" fill="#5a5a5a" color="#5a5a5a" text-anchor="end" font-weight="normal">-35.8</text>
<line x1="469" y1="215.1" x2="478" y2="215.1" stroke="#404040" stroke-width="1"/>
<path d="M469,38.5 L475,42.5 L469,46.5 Z" fill="#2a2a2a"/>
<path d="M472.5,38.5 L478.5,42.5 L472.5,46.5 Z" fill="#2a2a2a"/>
<path d="M470.5,210 L478,210 L474.2,218 Z" fill="#1a1a1a"/>
<text x="426.7" y="153" font-size="9" fill="#b0b0b8" text-anchor="middle">z</text>
<path d="M434,157 L446,153 L444,162 Z" fill="#c8c8d0"/>
<path d="M460,108 L474,124 L465,132 Z" fill="#dcdce2"/>
<text x="484.5" y="97" font-size="10" fill="#a8a040" color="#a8a040" text-anchor="middle" font-weight="normal" textLength="14" lengthAdjust="spacingAndGlyphs">Phi</text>
<text x="479" y="150" font-size="10" fill="#909080" color="#909080" text-anchor="middle" font-weight="normal" textLength="23" lengthAdjust="spacingAndGlyphs">Theta</text>
<rect x="6" y="320.5" width="155" height="112" fill="#ffffff" fill-opacity="0.72"/>
<text x="9" y="333.4" font-size="11" fill="#5a5a5a" color="#5a5a5a" text-anchor="start" font-weight="bold" textLength="113" lengthAdjust="spacingAndGlyphs">farfield (f=01.1000) [1]</text>
<text x="11.3" y="347.3" font-size="10.6" fill="#444444" color="#444444" text-anchor="start" font-weight="normal" textLength="19.8" lengthAdjust="spacingAndGlyphs">Type</text>
<text x="80.5" y="347.3" font-size="10.6" fill="#444444" color="#444444" text-anchor="start" font-weight="normal" textLength="29.1" lengthAdjust="spacingAndGlyphs">Farfield</text>
<text x="11.3" y="358.8" font-size="10.6" fill="#444444" color="#444444" text-anchor="start" font-weight="normal" textLength="60.7" lengthAdjust="spacingAndGlyphs">Approximation</text>
<text x="80.5" y="358.8" font-size="10.6" fill="#444444" color="#444444" text-anchor="start" font-weight="normal" textLength="72" lengthAdjust="spacingAndGlyphs">enabled (kR &gt;&gt; 1)</text>
<text x="11.3" y="370.4" font-size="10.6" fill="#444444" color="#444444" text-anchor="start" font-weight="normal" textLength="48.9" lengthAdjust="spacingAndGlyphs">Component</text>
<text x="80.5" y="370.4" font-size="10.6" fill="#444444" color="#444444" text-anchor="start" font-weight="normal" textLength="15" lengthAdjust="spacingAndGlyphs">Abs</text>
<text x="11.3" y="381.9" font-size="10.6" fill="#444444" color="#444444" text-anchor="start" font-weight="normal" textLength="29.1" lengthAdjust="spacingAndGlyphs">Output</text>
<text x="80.5" y="381.9" font-size="10.6" fill="#444444" color="#444444" text-anchor="start" font-weight="normal" textLength="40.4" lengthAdjust="spacingAndGlyphs">Directivity</text>
<text x="11.3" y="393.4" font-size="10.6" fill="#444444" color="#444444" text-anchor="start" font-weight="normal" textLength="42.4" lengthAdjust="spacingAndGlyphs">Frequency</text>
<text x="80.5" y="393.4" font-size="10.6" fill="#444444" color="#444444" text-anchor="start" font-weight="normal" textLength="30.2" lengthAdjust="spacingAndGlyphs">1.1 GHz</text>
<text x="11.3" y="404.9" font-size="10.6" fill="#444444" color="#444444" text-anchor="start" font-weight="normal" textLength="40.4" lengthAdjust="spacingAndGlyphs">Rad. Effic.</text>
<text x="80.5" y="404.9" font-size="10.6" fill="#444444" color="#444444" text-anchor="start" font-weight="normal" textLength="42.4" lengthAdjust="spacingAndGlyphs">-0.1163 dB</text>
<text x="11.3" y="416.5" font-size="10.6" fill="#444444" color="#444444" text-anchor="start" font-weight="normal" textLength="38.7" lengthAdjust="spacingAndGlyphs">Tot. Effic.</text>
<text x="80.5" y="416.5" font-size="10.6" fill="#444444" color="#444444" text-anchor="start" font-weight="normal" textLength="37.6" lengthAdjust="spacingAndGlyphs">-1.808 dB</text>
<text x="11.3" y="428.0" font-size="10.6" fill="#444444" color="#444444" text-anchor="start" font-weight="normal" textLength="13.6" lengthAdjust="spacingAndGlyphs">Dir.</text>
<text x="80.5" y="428.0" font-size="10.6" fill="#444444" color="#444444" text-anchor="start" font-weight="normal" textLength="35.9" lengthAdjust="spacingAndGlyphs">4.173 dBi</text>
</svg>
<g class="pl">
<rect x="513" y="17" width="487" height="199" fill="#ffffff"/>
<line x1="569.3" y1="158.5" x2="909.3" y2="158.5" stroke="#3a3a3a" stroke-width="1" stroke-dasharray="2,2"/>
<line x1="569.3" y1="137.5" x2="909.3" y2="137.5" stroke="#3a3a3a" stroke-width="1" stroke-dasharray="2,2"/>
<line x1="569.3" y1="117.5" x2="909.3" y2="117.5" stroke="#3a3a3a" stroke-width="1" stroke-dasharray="2,2"/>
<line x1="569.3" y1="97.5" x2="909.3" y2="97.5" stroke="#3a3a3a" stroke-width="1" stroke-dasharray="2,2"/>
<line x1="569.3" y1="77.5" x2="909.3" y2="77.5" stroke="#3a3a3a" stroke-width="1" stroke-dasharray="2,2"/>
<line x1="569.3" y1="57.5" x2="909.3" y2="57.5" stroke="#3a3a3a" stroke-width="1" stroke-dasharray="2,2"/>
<line x1="606.5" y1="37.5" x2="606.5" y2="180.6" stroke="#3a3a3a" stroke-width="1" stroke-dasharray="2,2"/>
<line x1="640.5" y1="37.5" x2="640.5" y2="180.6" stroke="#3a3a3a" stroke-width="1" stroke-dasharray="2,2"/>
<line x1="673.5" y1="37.5" x2="673.5" y2="180.6" stroke="#3a3a3a" stroke-width="1" stroke-dasharray="2,2"/>
<line x1="707.5" y1="37.5" x2="707.5" y2="180.6" stroke="#3a3a3a" stroke-width="1" stroke-dasharray="2,2"/>
<line x1="741.5" y1="37.5" x2="741.5" y2="180.6" stroke="#3a3a3a" stroke-width="1" stroke-dasharray="2,2"/>
<line x1="774.5" y1="37.5" x2="774.5" y2="180.6" stroke="#3a3a3a" stroke-width="1" stroke-dasharray="2,2"/>
<line x1="808.5" y1="37.5" x2="808.5" y2="180.6" stroke="#3a3a3a" stroke-width="1" stroke-dasharray="2,2"/>
<line x1="842.5" y1="37.5" x2="842.5" y2="180.6" stroke="#3a3a3a" stroke-width="1" stroke-dasharray="2,2"/>
<line x1="876.5" y1="37.5" x2="876.5" y2="180.6" stroke="#3a3a3a" stroke-width="1" stroke-dasharray="2,2"/>
<rect x="572.5" y="38.5" width="337" height="140" fill="none" stroke="#000" stroke-width="1"/>
<line x1="569" y1="38.5" x2="572" y2="38.5" stroke="#000"/>
<line x1="569" y1="178.5" x2="572" y2="178.5" stroke="#000"/>
<line x1="572.5" y1="178" x2="572.5" y2="182" stroke="#000"/>
<line x1="909.5" y1="178" x2="909.5" y2="182" stroke="#000"/>
<text x="563" y="41.8" font-size="11" fill="#111111" color="#111111" text-anchor="end" font-weight="normal" textLength="34" lengthAdjust="spacingAndGlyphs">6.9311</text>
<text x="563" y="182.3" font-size="11" fill="#111111" color="#111111" text-anchor="end" font-weight="normal">0</text>
<text x="563" y="162.3" font-size="11" fill="#111111" color="#111111" text-anchor="end" font-weight="normal">1</text>
<text x="563" y="141.3" font-size="11" fill="#111111" color="#111111" text-anchor="end" font-weight="normal">2</text>
<text x="563" y="121.3" font-size="11" fill="#111111" color="#111111" text-anchor="end" font-weight="normal">3</text>
<text x="563" y="101.3" font-size="11" fill="#111111" color="#111111" text-anchor="end" font-weight="normal">4</text>
<text x="563" y="81.3" font-size="11" fill="#111111" color="#111111" text-anchor="end" font-weight="normal">5</text>
<text x="563" y="61.3" font-size="11" fill="#111111" color="#111111" text-anchor="end" font-weight="normal">6</text>
<text x="572.3" y="196.3" font-size="11" fill="#111111" color="#111111" text-anchor="middle" font-weight="normal">0.5</text>
<text x="606.0" y="196.3" font-size="11" fill="#111111" color="#111111" text-anchor="middle" font-weight="normal">0.6</text>
<text x="639.6999999999999" y="196.3" font-size="11" fill="#111111" color="#111111" text-anchor="middle" font-weight="normal">0.7</text>
<text x="673.4" y="196.3" font-size="11" fill="#111111" color="#111111" text-anchor="middle" font-weight="normal">0.8</text>
<text x="707.0999999999999" y="196.3" font-size="11" fill="#111111" color="#111111" text-anchor="middle" font-weight="normal">0.9</text>
<text x="740.8" y="196.3" font-size="11" fill="#111111" color="#111111" text-anchor="middle" font-weight="normal">1</text>
<text x="774.5" y="196.3" font-size="11" fill="#111111" color="#111111" text-anchor="middle" font-weight="normal">1.1</text>
<text x="808.2" y="196.3" font-size="11" fill="#111111" color="#111111" text-anchor="middle" font-weight="normal">1.2</text>
<text x="841.9" y="196.3" font-size="11" fill="#111111" color="#111111" text-anchor="middle" font-weight="normal">1.3</text>
<text x="875.5999999999999" y="196.3" font-size="11" fill="#111111" color="#111111" text-anchor="middle" font-weight="normal">1.4</text>
<text x="909.3" y="196.3" font-size="11" fill="#111111" color="#111111" text-anchor="middle" font-weight="normal">1.5</text>
<text x="740" y="33" font-size="12" fill="#111111" color="#111111" text-anchor="middle" font-weight="normal" textLength="190" lengthAdjust="spacingAndGlyphs">Voltage Standing Wave Ratio (VSWR)</text>
<text x="740.3" y="213.5" font-size="11" fill="#111111" color="#111111" text-anchor="middle" font-weight="normal" textLength="86" lengthAdjust="spacingAndGlyphs">Frequency / GHz</text>
<clipPath id="c1"><rect x="572" y="37.5" width="338" height="141"/></clipPath>
<path d="M640.5,20.0 C641.0,23.0 641.8,29.4 643.2,38.0 C644.6,46.6 647.0,60.3 649.1,71.7 C651.2,83.1 653.4,96.0 656.0,106.4 C658.6,116.8 661.8,127.4 664.7,134.2 C667.6,141.0 670.8,144.8 673.4,147.4 C676.0,150.0 677.7,150.0 680.3,149.8 C682.9,149.6 685.8,148.9 689.0,146.3 C692.2,143.7 694.8,139.4 699.4,134.2 C704.0,129.0 711.0,121.1 716.8,115.0 C722.6,108.9 728.4,102.0 734.2,97.7 C740.0,93.4 746.6,90.0 751.5,89.0 C756.4,88.0 760.0,89.8 763.7,91.8 C767.4,93.8 770.5,98.1 773.9,101.2 C777.3,104.3 780.9,108.2 784.3,110.6 C787.6,113.0 790.5,115.6 794.0,115.8 C797.5,116.0 800.9,114.6 805.1,111.6 C809.3,108.6 814.4,102.3 819.0,97.7 C823.6,93.1 827.7,88.1 832.9,83.8 C838.1,79.5 844.5,76.2 850.3,71.7 C856.1,67.2 863.3,60.3 867.6,57.1 C871.9,53.9 873.3,53.3 876.0,52.3 C878.7,51.3 880.7,51.2 884.0,50.9 C887.3,50.6 892.8,51.0 896.0,50.6 C899.2,50.2 900.8,49.5 903.0,48.6 C905.2,47.7 908.4,45.8 909.5,45.2" fill="none" stroke="#c42a2a" stroke-width="2" clip-path="url(#c1)"/>
<line x1="794.5" y1="37.5" x2="794.5" y2="177.6" stroke="#000" stroke-width="2"/>
<rect x="771.5" y="183.5" width="44.5" height="16" fill="#fff" stroke="#333" stroke-width="1"/>
<text x="793.8" y="196.3" font-size="11" fill="#111111" color="#111111" text-anchor="middle" font-weight="normal">1.1582</text>
<rect x="676.8" y="45.9" width="108.9" height="23.2" fill="#fff" stroke="#000" stroke-width="2"/>
<text x="680.3" y="61.2" font-size="12.5" fill="#c83c3c" color="#c83c3c" text-anchor="start" font-weight="normal" textLength="101.5" lengthAdjust="spacingAndGlyphs" style="stroke:none">VSWR1 : 3.0481862</text>
<line x1="922.6" y1="48" x2="950" y2="48" stroke="#c42a2a" stroke-width="2"/>
<text x="955" y="52.4" font-size="12" fill="#c83c3c" color="#c83c3c" text-anchor="start" font-weight="normal" textLength="36.4" lengthAdjust="spacingAndGlyphs" style="stroke:none">VSWR1</text>
<rect x="513" y="236" width="487" height="196" fill="#ffffff"/>
<line x1="589.4" y1="266.5" x2="900.2" y2="266.5" stroke="#3a3a3a" stroke-width="1" stroke-dasharray="2,2"/>
<line x1="589.4" y1="297.5" x2="900.2" y2="297.5" stroke="#3a3a3a" stroke-width="1" stroke-dasharray="2,2"/>
<line x1="589.4" y1="328.5" x2="900.2" y2="328.5" stroke="#3a3a3a" stroke-width="1" stroke-dasharray="2,2"/>
<line x1="589.4" y1="359.5" x2="900.2" y2="359.5" stroke="#3a3a3a" stroke-width="1" stroke-dasharray="2,2"/>
<line x1="589.4" y1="390.5" x2="900.2" y2="390.5" stroke="#3a3a3a" stroke-width="1" stroke-dasharray="2,2"/>
<line x1="623.5" y1="256" x2="623.5" y2="398.8" stroke="#3a3a3a" stroke-width="1" stroke-dasharray="2,2"/>
<line x1="623.5" y1="256" x2="623.5" y2="259" stroke="#555" stroke-width="1"/>
<line x1="654.5" y1="256" x2="654.5" y2="398.8" stroke="#3a3a3a" stroke-width="1" stroke-dasharray="2,2"/>
<line x1="654.5" y1="256" x2="654.5" y2="259" stroke="#555" stroke-width="1"/>
<line x1="685.5" y1="256" x2="685.5" y2="398.8" stroke="#3a3a3a" stroke-width="1" stroke-dasharray="2,2"/>
<line x1="685.5" y1="256" x2="685.5" y2="259" stroke="#555" stroke-width="1"/>
<line x1="716.5" y1="256" x2="716.5" y2="398.8" stroke="#3a3a3a" stroke-width="1" stroke-dasharray="2,2"/>
<line x1="716.5" y1="256" x2="716.5" y2="259" stroke="#555" stroke-width="1"/>
<line x1="746.5" y1="256" x2="746.5" y2="398.8" stroke="#3a3a3a" stroke-width="1" stroke-dasharray="2,2"/>
<line x1="746.5" y1="256" x2="746.5" y2="259" stroke="#555" stroke-width="1"/>
<line x1="777.5" y1="256" x2="777.5" y2="398.8" stroke="#3a3a3a" stroke-width="1" stroke-dasharray="2,2"/>
<line x1="777.5" y1="256" x2="777.5" y2="259" stroke="#555" stroke-width="1"/>
<line x1="808.5" y1="256" x2="808.5" y2="398.8" stroke="#3a3a3a" stroke-width="1" stroke-dasharray="2,2"/>
<line x1="808.5" y1="256" x2="808.5" y2="259" stroke="#555" stroke-width="1"/>
<line x1="839.5" y1="256" x2="839.5" y2="398.8" stroke="#3a3a3a" stroke-width="1" stroke-dasharray="2,2"/>
<line x1="839.5" y1="256" x2="839.5" y2="259" stroke="#555" stroke-width="1"/>
<line x1="869.5" y1="256" x2="869.5" y2="398.8" stroke="#3a3a3a" stroke-width="1" stroke-dasharray="2,2"/>
<line x1="869.5" y1="256" x2="869.5" y2="259" stroke="#555" stroke-width="1"/>
<rect x="592.5" y="256.5" width="308" height="140" fill="none" stroke="#666" stroke-width="1"/>
<line x1="589" y1="256.5" x2="592" y2="256.5" stroke="#666"/>
<line x1="589" y1="396.5" x2="592" y2="396.5" stroke="#666"/>
<line x1="592.5" y1="396" x2="592.5" y2="400" stroke="#666"/>
<line x1="900.5" y1="396" x2="900.5" y2="400" stroke="#666"/>
<text x="583.5" y="260.8" font-size="11" fill="#111111" color="#111111" text-anchor="end" font-weight="normal">115.98</text>
<text x="583.5" y="301.3" font-size="11" fill="#111111" color="#111111" text-anchor="end" font-weight="normal">50</text>
<text x="583.5" y="332.3" font-size="11" fill="#111111" color="#111111" text-anchor="end" font-weight="normal">0</text>
<text x="583.5" y="363.3" font-size="11" fill="#111111" color="#111111" text-anchor="end" font-weight="normal">-50</text>
<text x="583.5" y="400.3" font-size="11" fill="#111111" color="#111111" text-anchor="end" font-weight="normal">-109.86</text>
<text x="592.4" y="414.5" font-size="11" fill="#111111" color="#111111" text-anchor="middle" font-weight="normal">0.5</text>
<text x="623.18" y="414.5" font-size="11" fill="#111111" color="#111111" text-anchor="middle" font-weight="normal">0.6</text>
<text x="653.9599999999999" y="414.5" font-size="11" fill="#111111" color="#111111" text-anchor="middle" font-weight="normal">0.7</text>
<text x="684.74" y="414.5" font-size="11" fill="#111111" color="#111111" text-anchor="middle" font-weight="normal">0.8</text>
<text x="715.52" y="414.5" font-size="11" fill="#111111" color="#111111" text-anchor="middle" font-weight="normal">0.9</text>
<text x="746.3" y="414.5" font-size="11" fill="#111111" color="#111111" text-anchor="middle" font-weight="normal">1</text>
<text x="777.08" y="414.5" font-size="11" fill="#111111" color="#111111" text-anchor="middle" font-weight="normal">1.1</text>
<text x="807.86" y="414.5" font-size="11" fill="#111111" color="#111111" text-anchor="middle" font-weight="normal">1.2</text>
<text x="838.64" y="414.5" font-size="11" fill="#111111" color="#111111" text-anchor="middle" font-weight="normal">1.3</text>
<text x="869.42" y="414.5" font-size="11" fill="#111111" color="#111111" text-anchor="middle" font-weight="normal">1.4</text>
<text x="900.2" y="414.5" font-size="11" fill="#111111" color="#111111" text-anchor="middle" font-weight="normal">1.5</text>
<text x="745.6" y="250.7" font-size="12" fill="#111111" color="#111111" text-anchor="middle" font-weight="normal" textLength="90" lengthAdjust="spacingAndGlyphs">Tables\1D Results</text>
<text x="744.5" y="431" font-size="11" fill="#111111" color="#111111" text-anchor="middle" font-weight="normal" textLength="86" lengthAdjust="spacingAndGlyphs">Frequency / GHz</text>
<text x="0" y="0" font-size="11.5" fill="#111111" color="#111111" text-anchor="middle" textLength="92" lengthAdjust="spacingAndGlyphs" transform="translate(535,326) rotate(-90)">Impedance / Ohm</text>
<clipPath id="c2"><rect x="592" y="256" width="309" height="140"/></clipPath>
<path d="M592.0,305.3 C593.0,304.0 596.3,302.0 598.0,297.5 C599.7,293.0 601.2,285.3 602.4,278.4 C603.6,271.4 604.4,262.2 605.0,255.8 C605.6,249.4 605.8,242.6 606.0,240.0" fill="none" stroke="#2ca02c" stroke-width="2" clip-path="url(#c2)"/>
<path d="M610.0,240.0 C610.2,242.6 610.5,248.0 611.0,255.8 C611.5,263.6 612.3,277.1 612.8,287.0 C613.3,296.9 613.3,309.6 614.2,315.5 C615.1,321.4 615.7,321.2 618.0,322.6 C620.3,324.0 622.3,323.9 628.2,323.9 C634.1,323.9 646.8,323.6 653.6,322.6 C660.4,321.6 664.9,320.0 668.9,318.0 C672.9,316.0 675.5,313.4 677.8,310.4 C680.1,307.4 681.2,304.3 682.9,300.2 C684.6,296.1 686.0,289.9 688.0,286.0 C690.0,282.1 692.7,277.0 695.0,277.0 C697.3,277.0 699.9,282.1 702.0,286.0 C704.1,289.9 705.5,295.7 707.6,300.2 C709.7,304.7 711.4,309.8 714.7,312.9 C718.0,315.9 722.7,317.3 727.4,318.5 C732.1,319.7 738.1,320.0 742.7,320.0 C747.4,320.0 750.6,319.5 755.3,318.3 C759.9,317.1 766.1,315.2 770.6,312.6 C775.1,310.1 778.1,307.3 782.0,303.0 C785.9,298.7 791.0,292.0 794.2,286.6 C797.4,281.2 798.7,275.8 801.0,270.6 C803.3,265.4 806.5,259.6 808.0,255.3 C809.5,251.0 809.7,246.7 810.0,245.0" fill="none" stroke="#2ca02c" stroke-width="2" clip-path="url(#c2)"/>
<path d="M829.0,245.0 C829.5,246.7 830.3,249.1 831.7,255.3 C833.1,261.5 835.2,274.7 837.4,282.0 C839.6,289.3 841.5,294.1 845.0,299.2 C848.5,304.3 853.6,309.2 858.4,312.6 C863.2,316.0 866.8,317.8 873.7,319.4 C880.6,321.0 895.4,321.7 899.7,322.1" fill="none" stroke="#2ca02c" stroke-width="2" clip-path="url(#c2)"/>
<line x1="608.5" y1="256" x2="608.5" y2="396" stroke="#c42a2a" stroke-width="2"/>
<path d="M626.9,400.0 C626.9,399.1 626.3,398.3 626.9,394.4 C627.5,390.5 628.4,382.4 630.7,376.5 C633.0,370.6 637.1,364.0 640.9,358.7 C644.7,353.4 649.4,348.9 653.6,344.7 C657.9,340.5 662.6,337.1 666.4,333.3 C670.2,329.5 674.1,324.5 676.5,321.8 C678.9,319.1 679.6,318.1 681.0,317.0 C682.4,315.9 683.7,314.9 685.0,315.2 C686.3,315.4 687.4,315.7 689.0,318.5 C690.6,321.3 692.4,327.6 694.4,332.0 C696.4,336.4 698.8,342.1 700.7,344.7 C702.6,347.2 703.9,347.3 705.8,347.3 C707.7,347.3 708.6,346.6 712.2,344.7 C715.8,342.8 722.3,338.8 727.4,335.8 C732.5,332.8 738.1,330.1 742.7,326.9 C747.4,323.7 750.0,321.3 755.3,316.4 C760.6,311.5 767.9,302.3 774.4,297.3 C780.9,292.3 788.5,289.2 794.2,286.6 C799.9,284.1 805.4,281.8 808.8,282.0 C812.2,282.2 812.6,282.0 814.5,287.7 C816.4,293.4 818.3,304.6 820.2,316.4 C822.1,328.2 824.4,345.7 826.0,358.4 C827.6,371.1 828.7,386.5 829.8,392.8 C830.9,399.1 831.5,395.7 832.5,396.0 C833.5,396.3 833.1,397.8 835.5,394.7 C837.9,391.6 842.5,383.6 847.0,377.5 C851.5,371.4 856.5,364.1 862.2,358.4 C867.9,352.7 875.0,347.4 881.3,343.1 C887.5,338.8 896.6,334.2 899.7,332.4" fill="none" stroke="#c42a2a" stroke-width="2" clip-path="url(#c2)"/>
<line x1="794.5" y1="256" x2="794.5" y2="395.8" stroke="#000" stroke-width="2"/>
<rect x="771.5" y="401.5" width="44.5" height="16.5" fill="#fff" stroke="#333" stroke-width="1"/>
<text x="793.8" y="414.5" font-size="11" fill="#111111" color="#111111" text-anchor="middle" font-weight="normal">1.1582</text>
<rect x="614" y="261.5" width="120" height="42.5" fill="#fff" stroke="#000" stroke-width="2"/>
<text x="618" y="277.5" font-size="12.5" fill="#c84444" color="#c84444" text-anchor="start" font-weight="normal" textLength="111" lengthAdjust="spacingAndGlyphs" style="stroke:none">Im(Z1,1) : 65.893743</text>
<text x="618" y="294.5" font-size="12.5" fill="#3ca03c" color="#3ca03c" text-anchor="start" font-weight="normal" textLength="110" lengthAdjust="spacingAndGlyphs" style="stroke:none">Re(Z1,1) : 67.603461</text>
<line x1="913" y1="266.2" x2="940.8" y2="266.2" stroke="#c42a2a" stroke-width="2"/>
<text x="946" y="270.5" font-size="12.5" fill="#c84444" color="#c84444" text-anchor="start" font-weight="normal" textLength="46" lengthAdjust="spacingAndGlyphs" style="stroke:none">Im(Z1,1)</text>
<line x1="913" y1="284" x2="940.8" y2="284" stroke="#2ca02c" stroke-width="2"/>
<text x="946" y="288.3" font-size="12.5" fill="#3ca03c" color="#3ca03c" text-anchor="start" font-weight="normal" textLength="44.5" lengthAdjust="spacingAndGlyphs" style="stroke:none">Re(Z1,1)</text>
</g>
<rect x="512" y="15.8" width="488" height="1.8" fill="#8e8e8e"/>
<rect x="512" y="16" width="1" height="200" fill="#9a9a9a"/>
<rect x="512" y="215.5" width="488" height="1.5" fill="#a0a0a0"/>
<rect x="512" y="234.5" width="488" height="1.2" fill="#8c8c8c"/>
<rect x="512" y="234.5" width="1" height="198" fill="#9a9a9a"/>
<rect x="507" y="15.5" width="2.5" height="417" fill="#b4b8c0"/>
<rect x="504.8" y="15.5" width="2.2" height="213" fill="#bcc0c8"/>
</svg>
</body></html>
